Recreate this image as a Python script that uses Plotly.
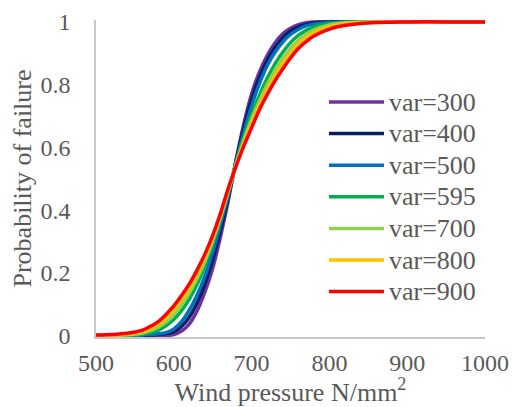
import plotly.graph_objects as go

# Wind pressure grid (N/mm^2)
pressure = [500, 520, 540, 560, 570, 580, 590, 600, 610, 620, 630, 640, 650, 660,
            670, 680, 690, 700, 710, 720, 730, 740, 750, 760, 770, 780, 800, 820,
            840, 860, 880, 900, 950, 1000]

# Probability of failure for each variance
p_var300 = [0, 0, 0, 0, 0, 0, 0.001, 0.004, 0.015, 0.038, 0.08, 0.14, 0.215, 0.315,
            0.43, 0.56, 0.675, 0.77, 0.84, 0.893, 0.933, 0.962, 0.98, 0.991, 0.997, 1.0,
            1.0, 1.0, 1.0, 1.0, 1.0, 1.0, 1.0, 1.0]
p_var400 = [0, 0, 0, 0.001, 0.002, 0.004, 0.007, 0.012, 0.03, 0.06, 0.105, 0.165, 0.243, 0.335,
            0.441, 0.556, 0.662, 0.752, 0.822, 0.877, 0.918, 0.949, 0.97, 0.984, 0.992, 0.997,
            1.0, 1.0, 1.0, 1.0, 1.0, 1.0, 1.0, 1.0]
p_var500 = [0, 0, 0, 0.002, 0.004, 0.006, 0.01, 0.022, 0.045, 0.082, 0.13, 0.19, 0.267, 0.356,
            0.448, 0.553, 0.648, 0.733, 0.803, 0.86, 0.903, 0.936, 0.96, 0.976, 0.987, 0.993,
            0.998, 1.0, 1.0, 1.0, 1.0, 1.0, 1.0, 1.0]
p_var595 = [0, 0, 0.001, 0.005, 0.01, 0.018, 0.032, 0.052, 0.08, 0.117, 0.164, 0.222, 0.292, 0.372,
            0.456, 0.549, 0.632, 0.705, 0.766, 0.82, 0.866, 0.903, 0.934, 0.957, 0.973, 0.984,
            0.995, 0.999, 1.0, 1.0, 1.0, 1.0, 1.0, 1.0]
p_var700 = [0, 0.001, 0.003, 0.009, 0.016, 0.027, 0.044, 0.068, 0.099, 0.137, 0.183, 0.238, 0.303, 0.377,
            0.461, 0.546, 0.622, 0.69, 0.748, 0.8, 0.845, 0.883, 0.915, 0.941, 0.96, 0.974,
            0.99, 0.997, 0.999, 1.0, 1.0, 1.0, 1.0, 1.0]
p_var800 = [0.001, 0.002, 0.005, 0.013, 0.023, 0.036, 0.056, 0.082, 0.114, 0.152, 0.197, 0.25, 0.313, 0.385,
            0.465, 0.543, 0.612, 0.676, 0.733, 0.783, 0.828, 0.867, 0.9, 0.928, 0.95, 0.966,
            0.985, 0.994, 0.998, 0.999, 1.0, 1.0, 1.0, 1.0]
p_var900 = [0.002, 0.004, 0.008, 0.018, 0.03, 0.045, 0.068, 0.095, 0.128, 0.165, 0.21, 0.26, 0.32, 0.39,
            0.47, 0.54, 0.605, 0.663, 0.72, 0.768, 0.812, 0.85, 0.885, 0.915, 0.937, 0.955,
            0.977, 0.989, 0.995, 0.998, 0.999, 1.0, 1.0, 1.0]

series_names = ["var=300", "var=400", "var=500", "var=595", "var=700", "var=800", "var=900"]
series_values = [p_var300, p_var400, p_var500, p_var595, p_var700, p_var800, p_var900]
series_colors = ["#7030A0", "#002060", "#0070C0", "#00B050", "#92D050", "#FFC000", "#FF0000"]

x_ticks = [500, 600, 700, 800, 900, 1000]
y_ticks = [0, 0.2, 0.4, 0.6, 0.8, 1]
y_tick_text = ["0", "0.2", "0.4", "0.6", "0.8", "1"]

FONT = "Liberation Serif, Times New Roman, serif"
GREY = "#595959"

fig = go.Figure()
for name, vals, col in zip(series_names, series_values, series_colors):
    fig.add_trace(go.Scatter(
        x=pressure, y=vals, mode="lines",
        # legend rows stay compact while the label itself is drawn larger
        name=f'<span style="font-size:26px">{name}</span>',
        line=dict(color=col, width=3.5, shape="spline", smoothing=0.6),
    ))

fig.update_layout(
    width=513, height=407,
    margin=dict(l=96, r=28, t=20, b=70, autoexpand=False),
    paper_bgcolor="white", plot_bgcolor="white",
    font=dict(family=FONT, color=GREY, size=24),
    showlegend=True,
    legend=dict(
        x=0.586, y=0.807, xanchor="left", yanchor="top",
        font=dict(family=FONT, size=22, color=GREY),
        bgcolor="rgba(0,0,0,0)", itemwidth=55, tracegroupgap=0,
    ),
    xaxis=dict(
        range=[500, 1000], tickvals=x_ticks, showgrid=False, zeroline=False,
        showline=True, linecolor="#C8C8C8", linewidth=1.5, ticks="", automargin=False,
        tickfont=dict(size=24, color=GREY), ticklabelstandoff=3,
        title=dict(text="Wind pressure N/mm<sup>2</sup>", font=dict(size=26, color=GREY), standoff=17),
    ),
    yaxis=dict(
        range=[-0.004, 1.006], tickvals=y_ticks, ticktext=y_tick_text, showgrid=False,
        zeroline=False, showline=True, linecolor="#C8C8C8", linewidth=1.5, ticks="",
        automargin=False,
        tickfont=dict(size=24, color=GREY), ticklabelstandoff=19,
        title=dict(text="Probability of failure", font=dict(size=26, color=GREY), standoff=1),
    ),
)

fig.write_html("out.html")
